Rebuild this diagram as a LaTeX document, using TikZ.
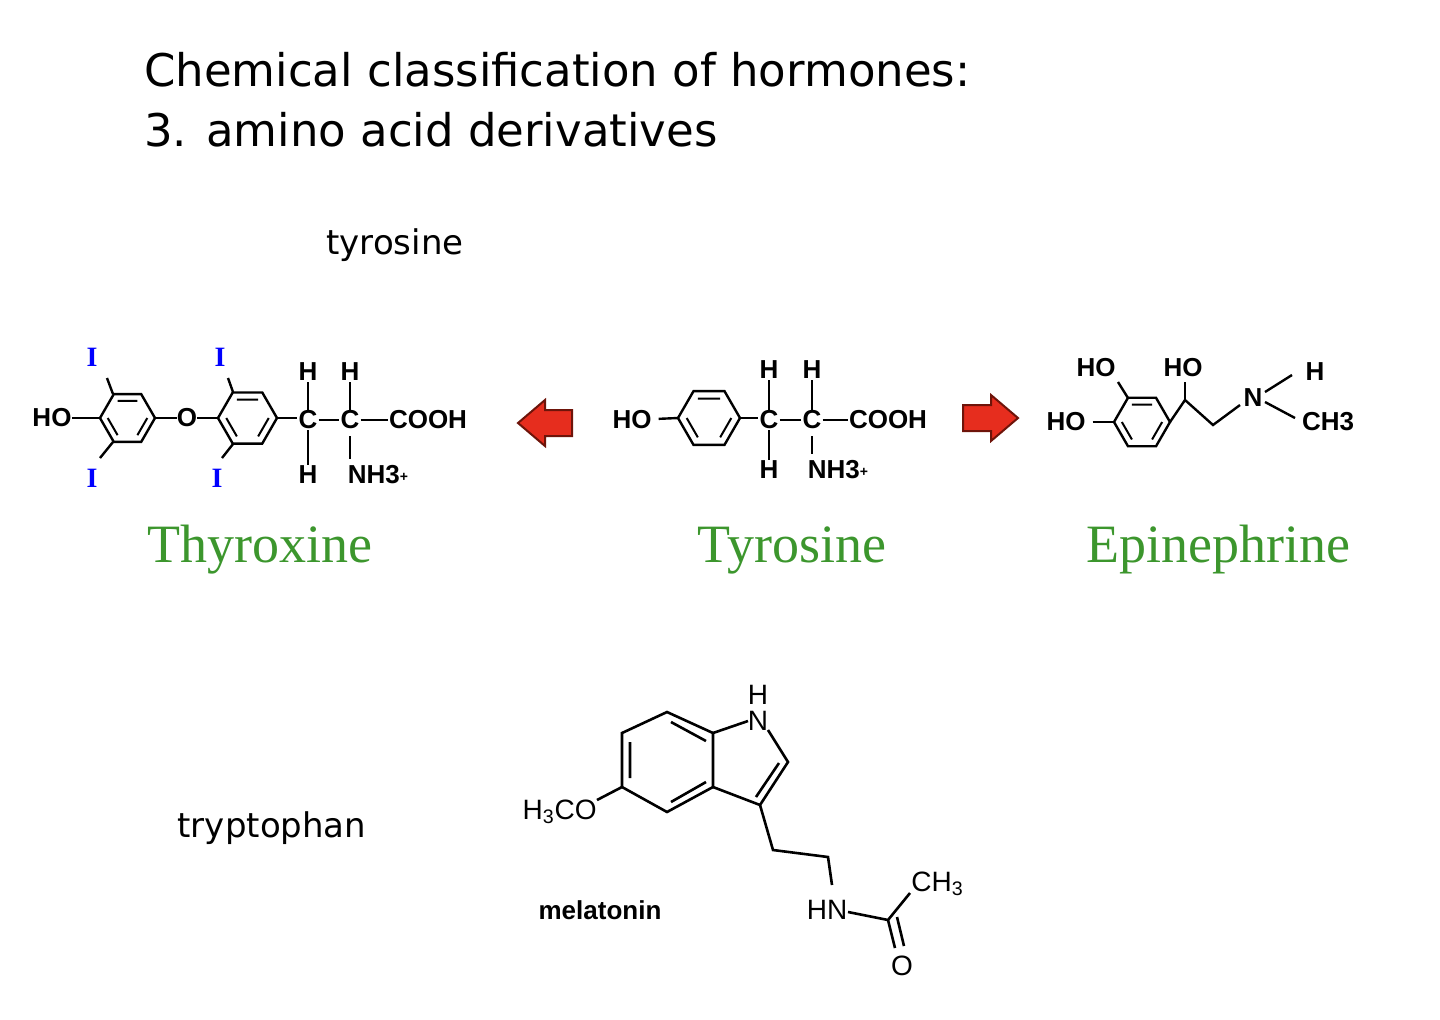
\documentclass[tikz,border=0pt]{standalone}
\usepackage{fontspec}
\setmainfont{Liberation Sans}
\newfontfamily\serifg{Liberation Serif}
\newfontfamily\titlef{DejaVu Sans}
\begin{document}
\begin{tikzpicture}[x=0.5pt,y=-0.5pt,line width=1.2pt,
  chem/.style={font=\fontsize{13}{13}\selectfont\bfseries,inner sep=0pt},
  mel/.style={font=\fontsize{14}{14}\selectfont,inner sep=0pt},
  iod/.style={font=\serifg\fontsize{14}{14}\selectfont\bfseries,inner sep=0pt,text=blue},
  green/.style={font=\serifg\fontsize{27}{27}\selectfont,text={rgb,255:red,60;green,150;blue,45},inner sep=0pt},
  lab/.style={font=\titlef\fontsize{17}{17}\selectfont,inner sep=0pt},
  hb/.style={shorten <=3pt,shorten >=3pt},
  redarrow/.style={fill={rgb,255:red,230;green,45;blue,30},draw={rgb,255:red,110;green,20;blue,10},line width=1pt}]
\useasboundingbox (0,0) rectangle (1440,1019);
\newcommand\hexr[3]{%
 \draw[shift={(#1,#2)}] (0:#3)--(60:#3)--(120:#3)--(180:#3)--(240:#3)--(300:#3)--cycle;
 \draw[shift={(#1,#2)},line width=1pt] (120:0.72*#3)--(180:0.72*#3) (240:0.72*#3)--(300:0.72*#3) (0:0.72*#3)--(60:0.72*#3);}
% title
\node[lab,anchor=west,font=\titlef\fontsize{22.5}{22.5}\selectfont] (t1) at (143,70) {Chemical classification of hormones:};
\node[lab,anchor=west,font=\titlef\fontsize{22.5}{22.5}\selectfont] (t2) at (143,130) {3. amino acid derivatives};
\node[lab] (tyr) at (395,245) {tyrosine};
\node[lab] (trp) at (272,828) {tryptophan};
% Thyroxine
\node[chem] (ho1) at (52,418) {HO};
\draw (72,418)--(100,418);
\hexr{127.5}{418}{27.5}
\draw (113,394)--(107,378) (113,442)--(100,458);
\node[iod] (i1) at (92,357) {I};
\node[iod] (i2) at (92,478) {I};
\draw (155,418)--(177,418);
\node[chem] (o1) at (187,418) {O};
\draw (197,418)--(218,418);
\hexr{247.5}{418}{29.5}
\draw (233,392)--(228,378) (233,444)--(222,458);
\node[iod] (i3) at (220,357) {I};
\node[iod] (i4) at (217,478) {I};
\draw (277,418)--(297,418);
\node[chem] (c1) at (308,420) {C};
\node[chem] (c2) at (350,420) {C};
\node[chem] (h1) at (308,372) {H};
\node[chem] (h2) at (308,475) {H};
\node[chem] (h3) at (350,372) {H};
\node[chem] (n1) at (378,475) {NH3\raisebox{1pt}{\scriptsize +}};
\node[chem] (co1) at (428,420) {COOH};
\draw[hb] (c1)--(c2) (c2)--(co1) (c1)--(h1) (c1)--(h2) (c2)--(h3) (c2)--(n1.north-|c2);
% Tyrosine
\node[chem] (ho2) at (632,420) {HO};
\draw[shorten <=3pt] (ho2)--(678,418);
\hexr{709}{418}{31}
\draw (740,418)--(758,418);
\node[chem] (c3) at (769,420) {C};
\node[chem] (c4) at (812,420) {C};
\node[chem] (h4) at (769,370) {H};
\node[chem] (h5) at (769,470) {H};
\node[chem] (h6) at (812,370) {H};
\node[chem] (n2) at (838,470) {NH3\raisebox{1pt}{\scriptsize +}};
\node[chem] (co2) at (888,420) {COOH};
\draw[hb] (c3)--(c4) (c4)--(co2) (c3)--(h4) (c3)--(h5) (c4)--(h6) (c4)--(n2.north-|c4);
% arrows
\draw[redarrow] (518,423)--(545,400)--(545,410)--(572,410)--(572,436)--(545,436)--(545,446)--cycle;
\draw[redarrow] (1018,418)--(991,395)--(991,405)--(963,405)--(963,431)--(991,431)--(991,441)--cycle;
% Epinephrine
\hexr{1142}{422}{28}
\node[chem] (ho3) at (1066,422) {HO};
\draw[shorten <=3pt] (ho3)--(1114,422);
\node[chem] (ho4) at (1096,368) {HO};
\draw (1128,398)--(1118,382);
\node[chem] (ho5) at (1183,368) {HO};
\draw (1170,422)--(1185,400)--(1213,425)--(1240,405);
\draw (1185,400)--(1185,382);
\node[chem] (n3) at (1253,398) {N};
\draw (1265,392)--(1292,375) (1265,402)--(1295,418);
\node[chem] (h7) at (1315,372) {H};
\node[chem] (ch3) at (1328,422) {CH3};
% green labels
\node[green] (g1) at (260,550) {Thyroxine};
\node[green] (g2) at (792,550) {Tyrosine};
\node[green] (g3) at (1218,550) {Epinephrine};
% Melatonin
\begin{scope}[line width=1.3pt]
\draw (667,712)--(622,733)--(622,787)--(667,812)--(713,787)--(713,733)--cycle;
\draw (630,742)--(630,778) (671,802)--(706,782) (671,722)--(706,741);
\node[mel] (n4) at (758,721) {N};
\node[mel] (h8) at (758,695) {H};
\draw (713,733)--(748,721);
\draw (768,730)--(788,762)--(760,805)--(713,787);
\draw (779,763)--(756,797);
\node[mel,anchor=east] (och) at (598,812) {H\textsubscript{3}CO};
\draw (597,800)--(622,787);
\draw (760,805)--(773,850)--(828,857)--(832,885);
\node[mel] (hn) at (827,910) {HN};
\draw (848,912)--(888,920)--(910,893);
\node[mel,anchor=west] (ch3b) at (910,884) {CH\textsubscript{3}};
\draw (888,920)--(895,948) (897,917)--(904,946);
\node[mel] (o2) at (902,966) {O};
\node[mel,font=\fontsize{13}{13}\selectfont\bfseries] (mlab) at (600,910) {melatonin};
\end{scope}
\end{tikzpicture}
\end{document}
